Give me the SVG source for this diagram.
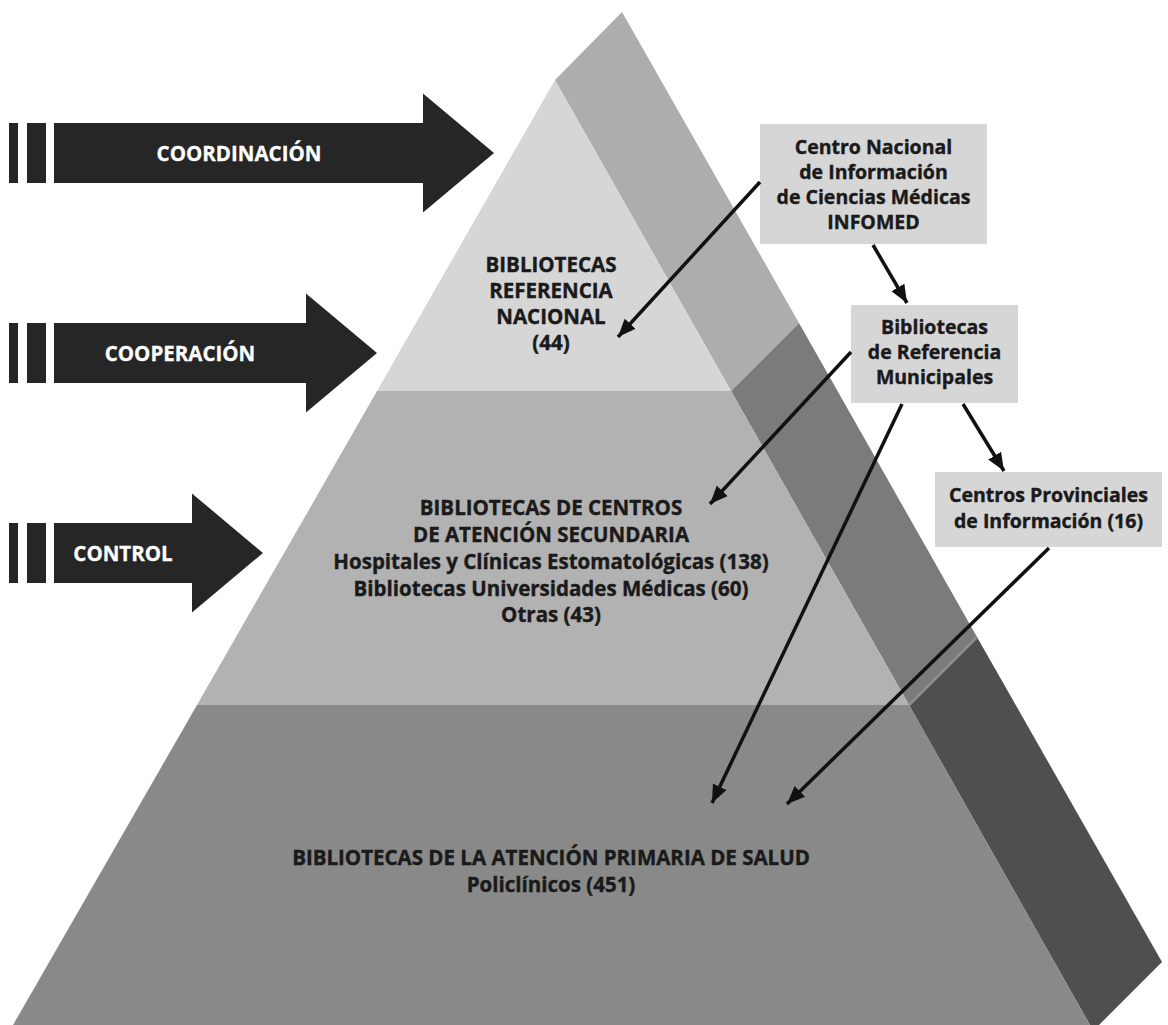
<svg xmlns="http://www.w3.org/2000/svg" width="1168" height="1025" viewBox="0 0 1168 1025">
<style>
  .lbl { font-family: "Open Sans", "Liberation Sans", sans-serif; font-weight: bold; fill: #1a1a1a; stroke: #1a1a1a; stroke-width: 0.4; text-anchor: middle; }
  .pyr { font-size: 20.5px; }
  .box { font-size: 19.5px; }
  .arr { font-family: "Open Sans", "Liberation Sans", sans-serif; font-weight: bold; fill: #ffffff; stroke: #ffffff; stroke-width: 0.3; text-anchor: middle; font-size: 20.5px; }
  .bigarrow { fill: #262626; }
  .boxrect { fill: #d6d6d6; }
  .conn { stroke: #111111; stroke-width: 3.5; fill: none; marker-end: url(#ah); }
</style>
<defs>
  <marker id="ah" markerUnits="userSpaceOnUse" markerWidth="20" markerHeight="20" viewBox="0 0 20 20" refX="18" refY="10" orient="auto">
    <path d="M0,2.5 L18,10 L0,17.5 Z" fill="#111111"/>
  </marker>
</defs>
<rect width="1168" height="1025" fill="#ffffff"/>

<g id="pyramid">
  <polygon points="555,80 622,12 799,323 731,391" fill="#adadad"/>
  <polygon points="731,391 799,323 977,637 909,705" fill="#7b7b7b"/>
  <polygon points="909,705 977,637 1162,962 1099,1025 1090,1025" fill="#4f4f4f"/>
  <line x1="909" y1="705" x2="977" y2="637" stroke="#8c8c8c" stroke-width="3"/>
  <polygon id="tier-top" points="555,80 731,391 377,391" fill="#d6d6d6"/>
  <polygon id="tier-mid" points="377,391 731,391 909,705 197,705" fill="#b2b2b2"/>
  <polygon id="tier-bot" points="197,705 909,705 1090,1025 13,1025" fill="#898989"/>
</g>

<g id="arrow-coordinacion">
  <rect x="9" y="123" width="9" height="60" class="bigarrow"/>
  <rect x="27" y="123" width="19" height="60" class="bigarrow"/>
  <polygon class="bigarrow" points="54,123 423,123 423,93.5 494,153 423,212.5 423,183 54,183"/>
  <text class="arr" x="239" y="161">COORDINACIÓN</text>
</g>
<g id="arrow-cooperacion">
  <rect x="9" y="323" width="9" height="60" class="bigarrow"/>
  <rect x="27" y="323" width="19" height="60" class="bigarrow"/>
  <polygon class="bigarrow" points="54,323 306,323 306,293.5 377,353 306,412.5 306,383 54,383"/>
  <text class="arr" x="180" y="361">COOPERACIÓN</text>
</g>
<g id="arrow-control">
  <rect x="9" y="523" width="9" height="60" class="bigarrow"/>
  <rect x="27" y="523" width="19" height="60" class="bigarrow"/>
  <polygon class="bigarrow" points="54,523 192,523 192,493.5 263,553 192,612.5 192,583 54,583"/>
  <text class="arr" x="123" y="561">CONTROL</text>
</g>

<g id="node-nacional">
  <text class="lbl pyr" x="551" y="272"><tspan x="551" y="272">BIBLIOTECAS</tspan><tspan x="551" y="298">REFERENCIA</tspan><tspan x="551" y="324">NACIONAL</tspan><tspan x="551" y="350">(44)</tspan></text>
</g>
<g id="node-secundaria">
  <text class="lbl pyr" x="551" y="515"><tspan x="551" y="515">BIBLIOTECAS DE CENTROS</tspan><tspan x="551" y="542">DE ATENCIÓN SECUNDARIA</tspan><tspan x="551" y="569">Hospitales y Clínicas Estomatológicas (138)</tspan><tspan x="551" y="596">Bibliotecas Universidades Médicas (60)</tspan><tspan x="551" y="622">Otras (43)</tspan></text>
</g>
<g id="node-primaria">
  <text class="lbl pyr" x="551" y="865"><tspan x="551" y="865">BIBLIOTECAS DE LA ATENCIÓN PRIMARIA DE SALUD</tspan><tspan x="551" y="892">Policlínicos (451)</tspan></text>
</g>

<g id="node-infomed">
  <rect class="boxrect" x="760" y="124" width="227" height="120"/>
  <text class="lbl box" x="873.5" y="154"><tspan x="873.5" y="154">Centro Nacional</tspan><tspan x="873.5" y="179">de Información</tspan><tspan x="873.5" y="204">de Ciencias Médicas</tspan><tspan x="873.5" y="229">INFOMED</tspan></text>
</g>
<g id="node-municipales">
  <rect class="boxrect" x="851" y="305" width="167" height="98"/>
  <text class="lbl box" x="934.5" y="334"><tspan x="934.5" y="334">Bibliotecas</tspan><tspan x="934.5" y="359">de Referencia</tspan><tspan x="934.5" y="384">Municipales</tspan></text>
</g>
<g id="node-provinciales">
  <rect class="boxrect" x="935" y="472" width="227" height="75"/>
  <text class="lbl box" x="1048.5" y="502"><tspan x="1048.5" y="502">Centros Provinciales</tspan><tspan x="1048.5" y="528">de Información (16)</tspan></text>
</g>

<g id="connectors">
  <line class="conn" x1="760" y1="182" x2="618" y2="337"/>
  <line class="conn" x1="873" y1="245" x2="907" y2="303"/>
  <line class="conn" x1="851" y1="352" x2="710" y2="504"/>
  <line class="conn" x1="902" y1="404" x2="712" y2="803"/>
  <line class="conn" x1="963" y1="404" x2="1004" y2="471"/>
  <line class="conn" x1="1049" y1="548" x2="787" y2="804"/>
</g>
</svg>
